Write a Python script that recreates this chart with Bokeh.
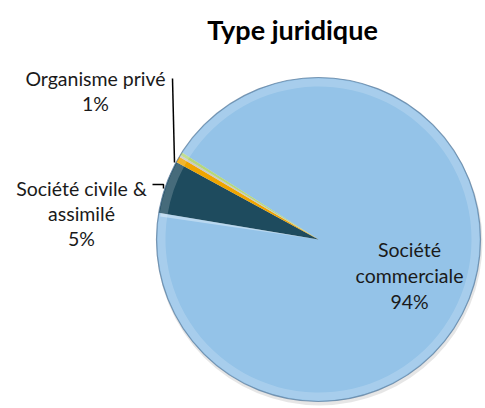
import numpy as np
from bokeh.plotting import figure
from bokeh.models import Range1d, ColumnDataSource
from bokeh.embed import file_html
from bokeh.resources import INLINE
from bokeh.core.properties import value

# ---- data ----
title_text = "Type juridique"
categories = ["Société commerciale", "Société civile & assimilé", "Organisme privé", "Autre", "Non renseigné"]
shares = [93.6, 5.3, 0.6, 0.2, 0.3]
colors = ["#94C3E8", "#1E4B5E", "#F0A500", "#C9C9C9", "#B5D77A"]

W, H = 485, 408
def X(px):
    return px
def Y(py):
    return H - py

p = figure(width=W, height=H, x_range=Range1d(0, W), y_range=Range1d(0, H),
           output_backend="svg", toolbar_location=None, min_border=0,
           x_axis_location=None, y_axis_location=None)
p.grid.visible = False
p.outline_line_color = None
p.background_fill_color = "white"
p.border_fill_color = "white"

cx, cy, r = X(318), Y(239), 162
a0 = np.deg2rad(147.5)
vals = np.array(shares, dtype=float)
frac = vals / vals.sum()
cum = np.concatenate([[0], np.cumsum(frac)])
starts = a0 - cum[:-1] * 2 * np.pi
ends = a0 - cum[1:] * 2 * np.pi

# soft shadow
p.circle(x=cx + 1, y=cy - 3, radius=r + 1, fill_color="#9A9A9A", fill_alpha=0.25, line_color=None)

src = ColumnDataSource(dict(start=starts, end=ends, color=colors, cat=categories))
p.wedge(x=cx, y=cy, radius=r, start_angle="start", end_angle="end", direction="clock",
        fill_color="color", line_color=None, source=src)

# bevel rim
p.annular_wedge(x=cx, y=cy, inner_radius=r - 9, outer_radius=r - 1, start_angle="start", end_angle="end",
                direction="clock", fill_color="white", fill_alpha=0.18, line_color=None, source=src)
p.circle(x=cx, y=cy, radius=r, fill_color=None, line_color="#6383A2", line_width=1.2, line_alpha=0.8)
# highlight streak along lower boundary of the big slice
p.wedge(x=cx, y=cy, radius=r - 2, start_angle=ends[0] + np.deg2rad(1.2), end_angle=ends[0],
        direction="clock", fill_color="white", fill_alpha=0.35, line_color=None)

# title
p.text(x=[X(292)], y=[Y(29)], text=[title_text], text_align="center", text_baseline="alphabetic",
       text_font=value("Lato"), text_font_style="bold", text_font_size="27px", text_color="#000000")

def pct(i):
    return f"{round(frac[i] * 100):.0f}%"

lab_font = dict(text_font=value("Lato"), text_font_size="19.5px", text_color="#1a1a1a",
                text_align="center", text_baseline="alphabetic")
# Société commerciale
p.text(x=[X(409)] * 3, y=[Y(249), Y(275), Y(301)], text=["Société", "commerciale", pct(0)], **lab_font)
# Société civile
p.text(x=[X(81)] * 3, y=[Y(188), Y(213), Y(238)], text=["Société civile &", "assimilé", pct(1)], **lab_font)
# Organisme privé
p.text(x=[X(95)] * 2, y=[Y(78), Y(103)], text=["Organisme privé", pct(2)], **lab_font)

# leader lines
p.line(x=[X(172), X(174)], y=[Y(78), Y(162)], line_color="black", line_width=1.5)
p.line(x=[X(152), X(163), X(163)], y=[Y(184), Y(184), Y(188)], line_color="black", line_width=1.5)

open("out.html", "w").write(file_html(p, INLINE))
